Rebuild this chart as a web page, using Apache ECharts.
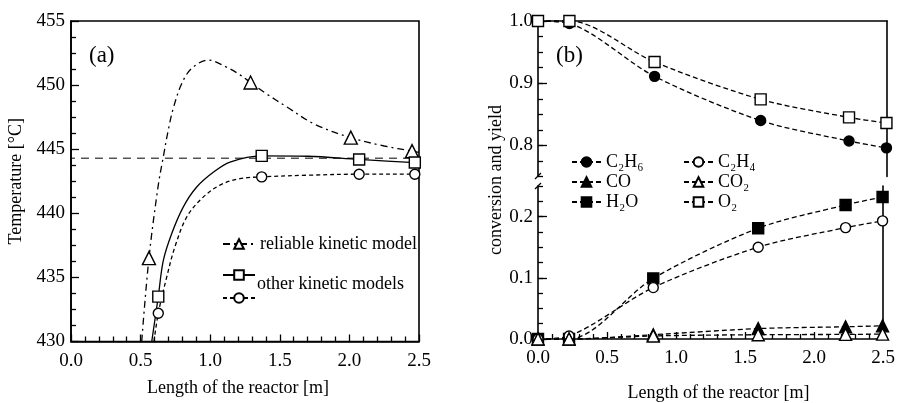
<!DOCTYPE html>
<html>
<head>
<meta charset="utf-8">
<script src="https://cdn.jsdelivr.net/npm/echarts@6.0.0/dist/echarts.min.js"></script>
<style>html,body{margin:0;padding:0;background:#fff}#chart{width:898px;height:403px}</style>
</head>
<body>
<div id="chart"></div>
<script>
'use strict';
// (a) temperature profiles [length m, temperature C]
var reliableCurve = [[0.508, 430], [0.56, 436.5], [0.627, 442.2], [0.663, 444.4], [0.699, 446.5], [0.735, 448.2],
    [0.795, 450.1], [0.867, 451.3], [0.986, 451.95], [1.118, 451.4], [1.214, 450.8], [1.29, 450.2], [1.40, 449.35],
    [1.55, 448.3], [1.75, 446.95], [2.01, 445.9], [2.25, 445.25], [2.45, 444.85], [2.5, 444.75]];
var reliableMarks = [0.56, 1.29, 2.01, 2.45];
var otherSolidCurve = [[0.58, 430], [0.627, 433.5], [0.663, 436.3], [0.723, 438.4], [0.807, 440.5], [0.903, 442.05],
    [1.022, 443.2], [1.142, 444.0], [1.37, 444.48], [1.7, 444.45], [2.07, 444.2], [2.47, 443.96], [2.5, 443.95]];
var otherSolidMarks = [0.627, 1.37, 2.07, 2.47];
var otherDashedCurve = [[0.596, 430], [0.627, 432.2], [0.687, 435.0], [0.747, 437.4], [0.831, 439.7], [0.939, 441.15],
    [1.07, 442.2], [1.214, 442.7], [1.37, 442.84], [1.7, 442.97], [2.07, 443.05], [2.47, 443.05], [2.5, 443.05]];
var otherDashedMarks = [0.627, 1.37, 2.07, 2.47];
var refTemp = [[-0.23, 444.3], [2.5, 444.3]];

// (b) conversion and yield
var reactorLength = [0, 0.225, 0.835, 1.595, 2.228, 2.496];
var c2h6 = [1.0, 0.996, 0.911, 0.840, 0.807, 0.796];
var o2 = [1.0, 1.0, 0.934, 0.874, 0.845, 0.836];
var h2o = [0, 0, 0.099, 0.181, 0.219, 0.232];
var c2h4 = [0, 0.005, 0.084, 0.150, 0.182, 0.193];
var co = [0, 0, 0.007, 0.017, 0.020, 0.0215];
var co2 = [0, 0, 0.005, 0.007, 0.0075, 0.008];
var upperLabels = [0.8, 0.9, 1.0];
var lowerLabels = [0, 0.1, 0.2];

var FONT = 'Liberation Serif';
var BLACK = '#000';

function withMarks(curve, marks) {
    return curve.map(function (p) {
        return marks.indexOf(p[0]) >= 0 ? p : {value: p, symbol: 'none'};
    });
}
function pairs(ys) {
    return reactorLength.map(function (x, i) { return [x, ys[i]]; });
}
function fixed1(v) { return (+v).toFixed(1); }

function axisBase(gridIndex, min, max, interval) {
    return {
        gridIndex: gridIndex, type: 'value', min: min, max: max, interval: interval,
        axisLine: {show: true, onZero: false, lineStyle: {color: BLACK, width: 1.6}},
        axisTick: {show: true, inside: true, length: 8, lineStyle: {color: BLACK, width: 1.3}},
        minorTick: {show: false, length: 5, lineStyle: {color: BLACK, width: 1.3}},
        splitLine: {show: false},
        axisLabel: {color: BLACK, fontFamily: FONT, fontSize: 19, showMinLabel: true, showMaxLabel: true}
    };
}
// bare line used as the frame of a panel
function frameAxis(gridIndex, position, min, max) {
    var a = axisBase(gridIndex, min, max);
    a.position = position;
    a.axisTick = {show: false};
    a.axisLabel = {show: false};
    return a;
}
// long ticks on selected values, drawn over a short-tick axis
function majorTickAxis(gridIndex, min, max, values) {
    var a = axisBase(gridIndex, min, max);
    a.position = 'left';
    a.axisLine = {show: false};
    a.axisLabel = {show: false};
    a.axisTick.length = 9;
    a.axisTick.customValues = values;
    return a;
}
function brokenAxis(gridIndex, min, max, labels) {
    var a = axisBase(gridIndex, min, max, 0.025);
    a.position = 'left';
    a.axisTick.length = 5;
    a.axisLabel.margin = 5;
    a.axisLabel.customValues = labels;
    a.axisLabel.formatter = fixed1;
    return a;
}

var nameStyle = {color: BLACK, fontFamily: FONT, fontSize: 18};

var xLeft = axisBase(0, 0, 2.5, 0.5);
xLeft.minorTick.show = true; xLeft.minorTick.splitNumber = 5;
xLeft.axisTick.length = 7;
xLeft.axisLabel.margin = 10; xLeft.axisLabel.formatter = fixed1;
xLeft.name = 'Length of the reactor [m]';
xLeft.nameLocation = 'middle'; xLeft.nameGap = 38;
xLeft.nameTextStyle = Object.assign({padding: [0, 14, 0, 0]}, nameStyle);

var yLeft = axisBase(0, 430, 455, 5);
yLeft.minorTick.show = true; yLeft.minorTick.splitNumber = 4;
yLeft.axisLabel.margin = 6;
yLeft.name = 'Temperature [°C]';
yLeft.nameLocation = 'middle'; yLeft.nameGap = 46;
yLeft.nameTextStyle = nameStyle;

var xRight = axisBase(2, 0, 2.5, 0.5);
xRight.minorTick.show = true; xRight.minorTick.splitNumber = 5;
xRight.axisTick.length = 7;
xRight.axisLabel.margin = 10; xRight.axisLabel.formatter = fixed1;
xRight.name = 'Length of the reactor [m]';
xRight.nameLocation = 'middle'; xRight.nameGap = 45;
xRight.nameTextStyle = Object.assign({padding: [0, 0, 0, 16]}, nameStyle);

function curveSeries(name, data, symbol, size, dash) {
    return {
        name: name, type: 'line', xAxisIndex: 0, yAxisIndex: 0,
        data: data, smooth: 0.35, clip: false,
        symbol: symbol, symbolSize: size, showAllSymbol: true,
        lineStyle: {color: BLACK, width: 1.3, type: dash},
        itemStyle: {color: '#fff', borderColor: BLACK, borderWidth: 1.4},
        z: 3
    };
}
function yieldSeries(name, ys, upper, symbol, size, filled) {
    return {
        name: name, type: 'line', xAxisIndex: upper ? 1 : 2, yAxisIndex: upper ? 1 : 4,
        data: pairs(ys), smooth: 0.3, clip: false,
        symbol: symbol, symbolSize: size, showAllSymbol: true,
        lineStyle: {color: BLACK, width: 1.3, type: [5, 3]},
        itemStyle: {color: filled ? BLACK : '#fff', borderColor: BLACK, borderWidth: 1.4},
        z: 3
    };
}

var legendText = {color: BLACK, fontFamily: FONT, fontSize: 18, lineHeight: 16};

var option = {
    backgroundColor: '#fff',
    animation: false,
    grid: [
        {left: 71, top: 21, width: 348, height: 320.5, show: true, borderColor: BLACK, borderWidth: 1.6},
        {left: 538, top: 21, width: 349, height: 155.5},
        {left: 538, top: 186, width: 349, height: 155.5}
    ],
    xAxis: [xLeft, frameAxis(1, 'top', 0, 2.5), xRight],
    yAxis: [
        yLeft,
        brokenAxis(1, 0.75, 1.0, upperLabels),
        majorTickAxis(1, 0.75, 1.0, upperLabels),
        frameAxis(1, 'right', 0.75, 1.0),
        brokenAxis(2, 0, 0.25, lowerLabels),
        majorTickAxis(2, 0, 0.25, lowerLabels),
        frameAxis(2, 'right', 0, 0.25)
    ],
    legend: [
        {data: ['reliable kinetic model'], left: 222, top: 235, padding: 0, itemWidth: 32, itemHeight: 12,
            selectedMode: false, textStyle: legendText},
        {data: ['other kinetic models', 'other kinetic models (dashed)'], orient: 'vertical', left: 222, top: 266,
            padding: 0, itemGap: 5, itemWidth: 32, itemHeight: 12, selectedMode: false, textStyle: legendText,
            formatter: function () { return ' '; }},
        {data: ['C₂H₆', 'CO', 'H₂O'], orient: 'vertical', left: 571, top: 153, padding: 0, itemGap: 2,
            itemWidth: 29, itemHeight: 12, selectedMode: false, textStyle: legendText},
        {data: ['C₂H₄', 'CO₂', 'O₂'], orient: 'vertical', left: 683, top: 153, padding: 0, itemGap: 2,
            itemWidth: 29, itemHeight: 12, selectedMode: false, textStyle: legendText}
    ],
    graphic: [
        {type: 'text', left: 89, top: 44, style: {text: '(a)', fontFamily: FONT, fontSize: 23, fill: BLACK}},
        {type: 'text', left: 556, top: 44, style: {text: '(b)', fontFamily: FONT, fontSize: 23, fill: BLACK}},
        {type: 'text', left: 257, top: 275, style: {text: 'other kinetic models', fontFamily: FONT, fontSize: 18, fill: BLACK}},
        {type: 'text', x: 496, y: 180, rotation: Math.PI / 2,
            style: {text: 'conversion and yield', fontFamily: FONT, fontSize: 18, fill: BLACK, align: 'center', verticalAlign: 'middle'}},
        {type: 'line', z: 200, shape: {x1: 535, y1: 179, x2: 541, y2: 173}, style: {stroke: BLACK, lineWidth: 1.3}},
        {type: 'line', z: 200, shape: {x1: 535, y1: 189, x2: 541, y2: 183}, style: {stroke: BLACK, lineWidth: 1.3}}
    ],
    series: [
        {
            name: 'reference', type: 'line', xAxisIndex: 0, yAxisIndex: 0, data: refTemp,
            clip: false, symbol: 'none', lineStyle: {color: BLACK, width: 1, type: [8, 6]}, z: 2
        },
        curveSeries('reliable kinetic model', withMarks(reliableCurve, reliableMarks), 'triangle', 13, [7, 4, 2, 4]),
        curveSeries('other kinetic models', withMarks(otherSolidCurve, otherSolidMarks), 'rect', 11, 'solid'),
        curveSeries('other kinetic models (dashed)', withMarks(otherDashedCurve, otherDashedMarks), 'circle', 10, [4, 3]),
        yieldSeries('C₂H₆', c2h6, true, 'circle', 10, true),
        yieldSeries('O₂', o2, true, 'rect', 11, false),
        yieldSeries('H₂O', h2o, false, 'rect', 11, true),
        yieldSeries('C₂H₄', c2h4, false, 'circle', 10, false),
        yieldSeries('CO', co, false, 'triangle', 12, true),
        yieldSeries('CO₂', co2, false, 'triangle', 12, false)
    ]
};

var chart = echarts.init(document.getElementById('chart'));
chart.setOption(option);
window.addEventListener('resize', function () { chart.resize(); });
</script>
</body>
</html>
